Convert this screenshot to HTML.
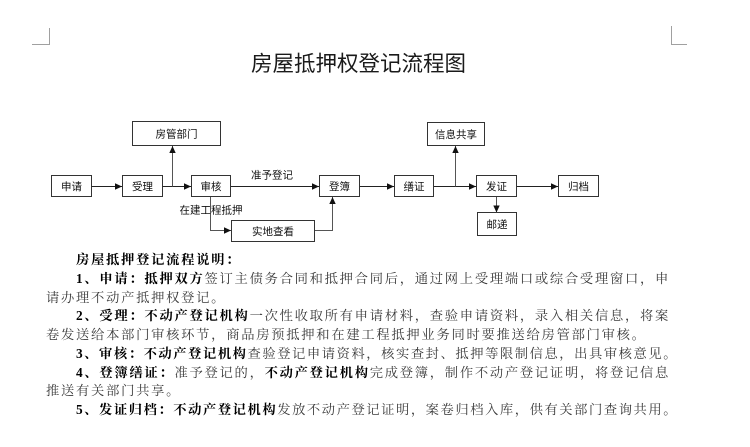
<!DOCTYPE html>
<html>
<head>
<meta charset="utf-8">
<style>
  html, body { margin:0; padding:0; background:#fff; }
  body { width:750px; height:447px; position:relative; overflow:hidden; }
  svg { position:absolute; left:0; top:0; }
  .ln {
    position:absolute; white-space:nowrap;
    font-family:"Liberation Serif","Noto Serif CJK SC",serif;
    font-size:13.3px; line-height:18.75px; letter-spacing:1.72px;
    color:#3a3a3a;
  }
  .ln.t { letter-spacing:1.55px; }
  .ln b { font-weight:700; color:#000; }
</style>
</head>
<body>
<svg width="750" height="447" viewBox="0 0 750 447" xmlns="http://www.w3.org/2000/svg">
  <defs>
    <marker id="ah" markerWidth="8" markerHeight="8" refX="7" refY="4" orient="auto" markerUnits="userSpaceOnUse">
      <path d="M0,0.8 L7,4 L0,7.2 Z" fill="#111"/>
    </marker>
  </defs>
  <!-- corner marks -->
  <polyline points="49.5,28 49.5,44.5 32,44.5" fill="none" stroke="#a0a0a0" stroke-width="1"/>
  <polyline points="671.5,26 671.5,44.5 687,44.5" fill="none" stroke="#a0a0a0" stroke-width="1"/>

  <!-- title -->
  <text x="358.5" y="71" text-anchor="middle" font-family="Liberation Sans, Noto Sans CJK SC, sans-serif" font-size="21.5" fill="#1a1a1a">房屋抵押权登记流程图</text>

  <g fill="#fff" stroke="#333" stroke-width="1">
    <rect x="51.5" y="175.5" width="40" height="21"/>
    <rect x="122.5" y="175.5" width="40" height="21"/>
    <rect x="132.5" y="121.5" width="88" height="24"/>
    <rect x="191.5" y="175.5" width="39" height="21"/>
    <rect x="319.5" y="175.5" width="40" height="21"/>
    <rect x="231.5" y="220.5" width="83" height="21"/>
    <rect x="394.5" y="175.5" width="39" height="21"/>
    <rect x="427.5" y="122.5" width="57" height="23"/>
    <rect x="476.5" y="175.5" width="40" height="21"/>
    <rect x="477.5" y="212.5" width="39" height="23"/>
    <rect x="558.5" y="175.5" width="40" height="21"/>
  </g>

  <g fill="none" stroke="#222" stroke-width="1">
    <line x1="91.5" y1="186.5" x2="122" y2="186.5" marker-end="url(#ah)"/>
    <line x1="162.5" y1="186.5" x2="191" y2="186.5" marker-end="url(#ah)"/>
    <line x1="172.5" y1="186.5" x2="172.5" y2="146" marker-end="url(#ah)" stroke="#555"/>
    <line x1="231" y1="186.5" x2="319" y2="186.5" marker-end="url(#ah)"/>
    <polyline points="210.5,197 210.5,230.5 231,230.5" marker-end="url(#ah)" stroke="#555"/>
    <polyline points="315,230.5 332.5,230.5 332.5,197" marker-end="url(#ah)" stroke="#555"/>
    <line x1="360" y1="186.5" x2="394" y2="186.5" marker-end="url(#ah)"/>
    <line x1="434" y1="186.5" x2="476" y2="186.5" marker-end="url(#ah)"/>
    <line x1="455.5" y1="186.5" x2="455.5" y2="146" marker-end="url(#ah)" stroke="#555"/>
    <line x1="496.5" y1="197" x2="496.5" y2="212.5" marker-end="url(#ah)" stroke="#555"/>
    <line x1="517" y1="186.5" x2="558" y2="186.5" marker-end="url(#ah)"/>
  </g>

  <g font-family="Liberation Sans, Noto Sans CJK SC, sans-serif" font-size="10.5" fill="#111" text-anchor="middle">
    <text x="71.5" y="190">申请</text>
    <text x="142.5" y="190">受理</text>
    <text x="176.5" y="137.5">房管部门</text>
    <text x="211" y="190">审核</text>
    <text x="339.5" y="190">登簿</text>
    <text x="273" y="235">实地查看</text>
    <text x="414" y="190">缮证</text>
    <text x="456" y="138">信息共享</text>
    <text x="496.5" y="190">发证</text>
    <text x="497" y="228">邮递</text>
    <text x="578.5" y="190">归档</text>
    <text x="272" y="178.5">准予登记</text>
    <text x="211" y="213.5">在建工程抵押</text>
  </g>
</svg>

<div class="ln" style="left:76px;top:251.2px;"><b>房屋抵押登记流程说明：</b></div>
<div class="ln" style="left:76px;top:269.95px;"><b>1、申请：抵押双方</b>签订主债务合同和抵押合同后，通过网上受理端口或综合受理窗口，申</div>
<div class="ln" style="left:46px;top:288.7px;">请办理不动产抵押权登记。</div>
<div class="ln" style="left:76px;top:307.45px;"><b>2、受理：不动产登记机构</b>一次性收取所有申请材料，查验申请资料，录入相关信息，将案</div>
<div class="ln" style="left:46px;top:326.2px;">卷发送给本部门审核环节，商品房预抵押和在建工程抵押业务同时要推送给房管部门审核。</div>
<div class="ln t" style="left:76px;top:344.95px;"><b>3、审核：不动产登记机构</b>查验登记申请资料，核实查封、抵押等限制信息，出具审核意见。</div>
<div class="ln" style="left:76px;top:363.7px;"><b>4、登簿缮证：</b>准予登记的，<b>不动产登记机构</b>完成登簿，制作不动产登记证明，将登记信息</div>
<div class="ln" style="left:46px;top:382.45px;">推送有关部门共享。</div>
<div class="ln t" style="left:76px;top:401.2px;"><b>5、发证归档：不动产登记机构</b>发放不动产登记证明，案卷归档入库，供有关部门查询共用。</div>
</body>
</html>
